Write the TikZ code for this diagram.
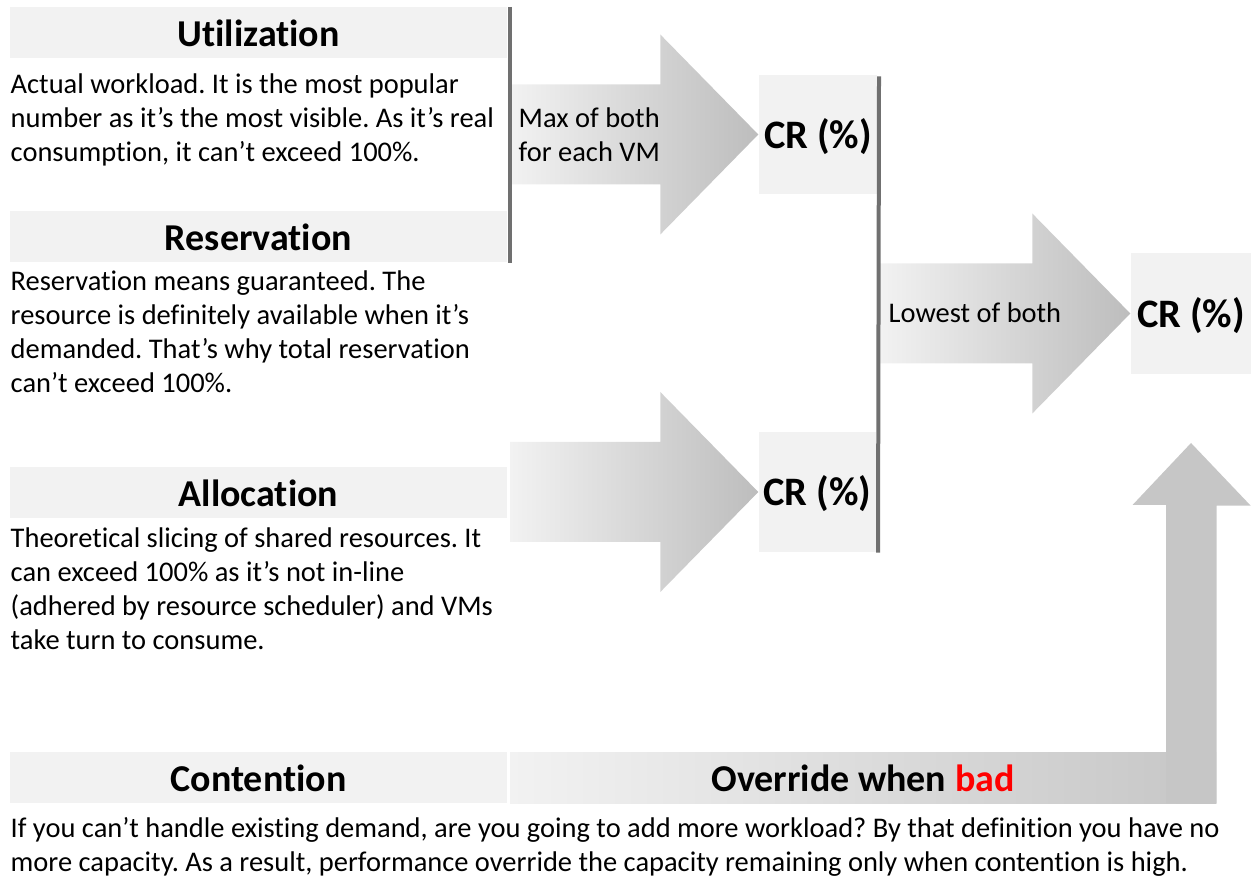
\documentclass[tikz,border=0pt]{standalone}
\usepackage{fontspec}
\setmainfont{Carlito}[Ligatures=NoCommon]
\usepackage{xcolor}
\usetikzlibrary{positioning,calc}
\definecolor{hd}{HTML}{F2F2F2}
\definecolor{rule}{HTML}{707070}
\definecolor{arrlt}{HTML}{F2F2F2}
\definecolor{arrdk}{HTML}{BDBDBD}
\definecolor{upfill}{HTML}{C6C6C6}
\definecolor{badred}{HTML}{FF0000}
\newcommand{\bd}[1]{\textcolor{badred}{#1}}
% block arrow: from a coordinate to the node anchor it points at
\newcommand{\blockarrow}[2]{%
  \shade[left color=arrlt,right color=arrdk] (#1) ++(0,-5) -- ($(#2)+(-9.8,-5)$) -- ($(#2)+(-9.8,-10)$) -- (#2) -- ($(#2)+(-9.8,10)$) -- ($(#2)+(-9.8,5)$) -- ($(#1)+(0,5)$) -- cycle;}
\tikzset{
  head/.style={font=\bfseries\fontsize{10.8}{13}\selectfont,text height=2.72mm,text depth=0pt},
  hbox/.style={head,fill=hd,minimum width=49.7mm,minimum height=5.1mm,inner sep=0pt},
  crbox/.style={head,font=\bfseries\fontsize{11.5}{13}\selectfont,fill=hd,minimum width=11.8mm,minimum height=11.9mm,inner sep=0pt},
  body/.style={anchor=north west,inner sep=0pt,align=left,font=\fontsize{8.1}{9.67}\selectfont},
  sep/.style={draw=rule,line width=0.4mm},
}
\begin{document}
\frenchspacing
\begin{tikzpicture}[x=1mm,y=-1mm]
\useasboundingbox (0,0) rectangle (125.4,87.9);
% left column
\node[hbox] (util) at (25.85,3.3) {Utilization};
\node[body] (utiltx) at (1.0,7.35) {Actual workload. It is the most popular\\number as it’s the most visible. As it’s real\\consumption, it can’t exceed 100\%.};
\node[hbox] (res) at (25.85,23.65) {Reservation};
\node[body] (restx) at (1.0,27.05) {Reservation means guaranteed. The\\resource is definitely available when it’s\\demanded. That’s why total reservation\\can’t exceed 100\%.};
\node[hbox] (alloc) at (25.85,49.25) {Allocation};
\node[body] (alloctx) at (1.0,52.75) {Theoretical slicing of shared resources. It\\can exceed 100\% as it’s not in-line\\(adhered by resource scheduler) and VMs\\take turn to consume.};
\node[hbox] (cont) at (25.85,77.75) {Contention};
\node[body] (conttx) at (1.0,81.65) {If you can’t handle existing demand, are you going to add more workload? By that definition you have no\\more capacity. As a result, performance override the capacity remaining only when contention is high.};
% results
\node[crbox] (cr1) at (81.8,13.45) {CR (\%)};
\node[crbox,minimum width=11.7mm,minimum height=12mm] (cr2) at (81.75,49.2) {CR (\%)};
\node[crbox,minimum width=12mm,minimum height=12.1mm] (cr3) at (119.1,31.35) {CR (\%)};
% arrows
\coordinate (in1) at (51.0,13.45);
\coordinate (in2) at (51.0,49.2);
\coordinate (in3) at (88.0,31.35);
\blockarrow{in1}{cr1.west}
\blockarrow{in2}{cr2.west}
\blockarrow{in3}{cr3.west}
\node[body,anchor=west,align=left] (maxtx) at (51.8,13.45) {Max of both\\for each VM};
\node[body,anchor=west] (lowtx) at (88.8,31.25) {Lowest of both};
% override
\node[head,left color=arrlt,right color=upfill,minimum width=70.6mm,minimum height=5.1mm,inner sep=0pt] (ovr) at (86.3,77.75) {Override when \bd{bad}};
\coordinate (uptip) at (119.1,44.3);
\fill[upfill] (ovr.south east) -- ++(0,-29.8) -- ++(3.4,0) -- (uptip) -- ++(-5.85,6.2) -- ++(3.35,0) -- ++(0,29.8) -- cycle;
% separators
\draw[sep] ($(util.north east)+(0.23,0)$) -- ($(res.south east)+(0.23,0)$);
\draw[sep] ($(cr1.north east)+(0.13,0.2)$) -- ($(cr2.south east)+(0.13,0)$);
\end{tikzpicture}
\end{document}
